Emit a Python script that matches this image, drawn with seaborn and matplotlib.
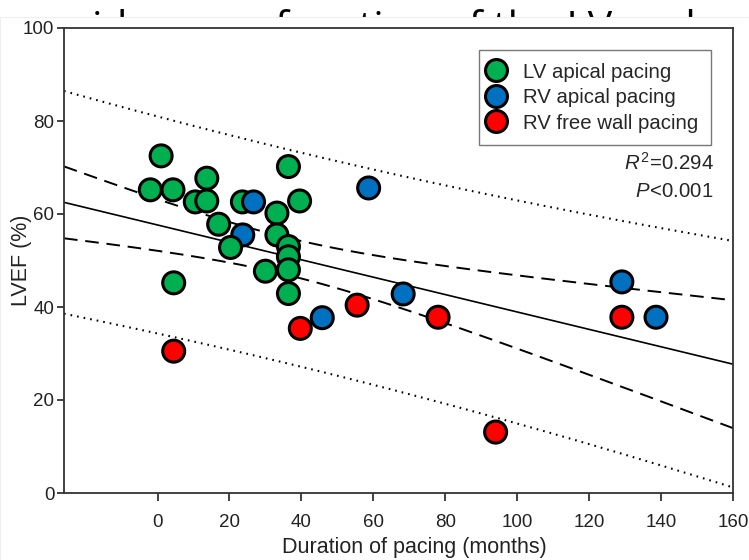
import numpy as np
import pandas as pd
import matplotlib
matplotlib.use("Agg")
import matplotlib.pyplot as plt
import seaborn as sns
from matplotlib.lines import Line2D
from matplotlib.patches import Rectangle

# ---- data ----
duration = [1.0, -2.0, 4.3, 13.7, 10.5, 13.7, 23.6, 26.7, 36.4, 39.5, 33.2, 17.0,
            23.7, 20.3, 33.2, 36.4, 36.4, 30.0, 36.4, 4.5, 36.4, 39.7, 45.8, 58.7,
            55.5, 68.3, 78.0, 94.0, 129.1, 129.1, 138.6, 4.5]
lvef = [72.5, 65.2, 65.2, 67.7, 62.6, 62.8, 62.6, 62.6, 70.2, 62.8, 60.2, 57.8,
        55.5, 52.8, 55.5, 53.0, 50.8, 47.7, 48.0, 45.2, 42.9, 35.4, 37.7, 65.6,
        40.4, 42.8, 37.8, 13.1, 45.4, 37.8, 37.8, 30.5]
site = ["LV apical pacing"] * 7 + ["RV apical pacing"] + ["LV apical pacing"] * 4 + \
       ["RV apical pacing"] + ["LV apical pacing"] * 8 + \
       ["RV free wall pacing", "RV apical pacing", "RV apical pacing",
        "RV free wall pacing", "RV apical pacing", "RV free wall pacing",
        "RV free wall pacing", "RV apical pacing", "RV free wall pacing",
        "RV apical pacing", "RV free wall pacing"]
groups = ["LV apical pacing", "RV apical pacing", "RV free wall pacing"]
colors = ["#00B050", "#0070C0", "#FF0000"]
x_ticks = [0, 20, 40, 60, 80, 100, 120, 140, 160]
y_ticks = [0, 20, 40, 60, 80, 100]
stats_text = [r"$\mathit{R}^{2}\!=\!0.294$", r"$\mathit{P}\!<\!0.001$"]

# regression summary as drawn in the reference (line, 95% CI and prediction bands)
reg_intercept = 57.64
reg_slope = -0.1871
reg_t_se = 22.66      # t(0.975) x residual standard error
reg_xbar = 36.2
reg_sxx = 45470.0
x_range = [-26, 160]

df = pd.DataFrame({"Duration": duration, "LVEF": lvef, "Site": site})

sns.set_theme(style="white")
plt.rcParams["font.family"] = ["Liberation Sans", "DejaVu Sans"]
plt.rcParams["mathtext.fontset"] = "custom"
plt.rcParams["mathtext.rm"] = "Liberation Sans"
plt.rcParams["mathtext.it"] = "Liberation Sans:italic"

fig = plt.figure(figsize=(7.49, 5.60), dpi=100)
ax = fig.add_axes([64 / 749, 1 - 493 / 560, (733 - 64) / 749, (493 - 28) / 560])
ax.set_zorder(2)

# background slide title (mostly hidden behind the chart image)
fig.text(92 / 749, 1 - 40 / 560, "id, worse function of the LV and",
         fontsize=29.5, family=["Open Sans", "DejaVu Sans"], color="black",
         va="baseline", ha="left", zorder=-2)
fig.patches.append(Rectangle((0, 0), 1, 1 - 17 / 560, transform=fig.transFigure,
                             facecolor="white", edgecolor="#eeeeee", lw=0.8,
                             zorder=-1))

# regression line with bands
n = len(duration)
xs = np.linspace(x_range[0], x_range[1], 300)
yh = reg_intercept + reg_slope * xs
ci = reg_t_se * np.sqrt(1 / n + (xs - reg_xbar) ** 2 / reg_sxx)
pi = reg_t_se * np.sqrt(1 + 1 / n + (xs - reg_xbar) ** 2 / reg_sxx)

sns.lineplot(x=xs, y=yh, color="black", lw=1.2, ax=ax, zorder=1)
for sign in (1, -1):
    ax.plot(xs, yh + sign * ci, color="black", lw=1.4, ls=(0, (7, 4)), zorder=1)
    ax.plot(xs, yh + sign * pi, color="black", lw=1.5, ls=(0, (0.8, 2.4)), zorder=1)

sns.scatterplot(data=df, x="Duration", y="LVEF", hue="Site", hue_order=groups,
                palette=colors, s=250, edgecolor="black", linewidth=2.2,
                legend=False, ax=ax, zorder=3)

handles = [Line2D([], [], ls="none", marker="o", markersize=15.8,
                  markerfacecolor=c, markeredgecolor="black", markeredgewidth=2.2)
           for c in colors]
leg = ax.legend(handles, groups, loc="upper right", bbox_to_anchor=(0.967, 0.953),
                borderaxespad=0, frameon=True, fancybox=False, fontsize=14.7,
                labelspacing=0.32, handletextpad=1.1, handlelength=0.46,
                borderpad=0.62)
leg.get_frame().set_edgecolor("#555555")
leg.get_frame().set_linewidth(1.0)

ax.text(154.7, 71.0, stats_text[0], ha="right", va="center", fontsize=14.7)
ax.text(154.7, 64.9, stats_text[1], ha="right", va="center", fontsize=14.7)

ax.set_xlim(*x_range)
ax.set_ylim(0, 100)
ax.set_xticks(x_ticks)
ax.set_yticks(y_ticks)
ax.tick_params(axis="both", direction="out", width=1.2, labelsize=13.5,
               colors="#222222", bottom=True, left=True)
ax.tick_params(axis="x", pad=9, length=6)
ax.tick_params(axis="y", pad=2, length=5)
for sp in ax.spines.values():
    sp.set_color("#333333")
    sp.set_linewidth(1.3)
ax.set_xlabel("Duration of pacing (months)", fontsize=15.5, color="#222222")
ax.set_ylabel("LVEF (%)", fontsize=15.5, color="#222222")
ax.xaxis.set_label_coords((414 - 64) / 669, -0.095)
ax.yaxis.set_label_coords((22 - 64) / 669, 0.5)
ax.yaxis.label.set_va("center")

fig.savefig("out.png", dpi=100)
